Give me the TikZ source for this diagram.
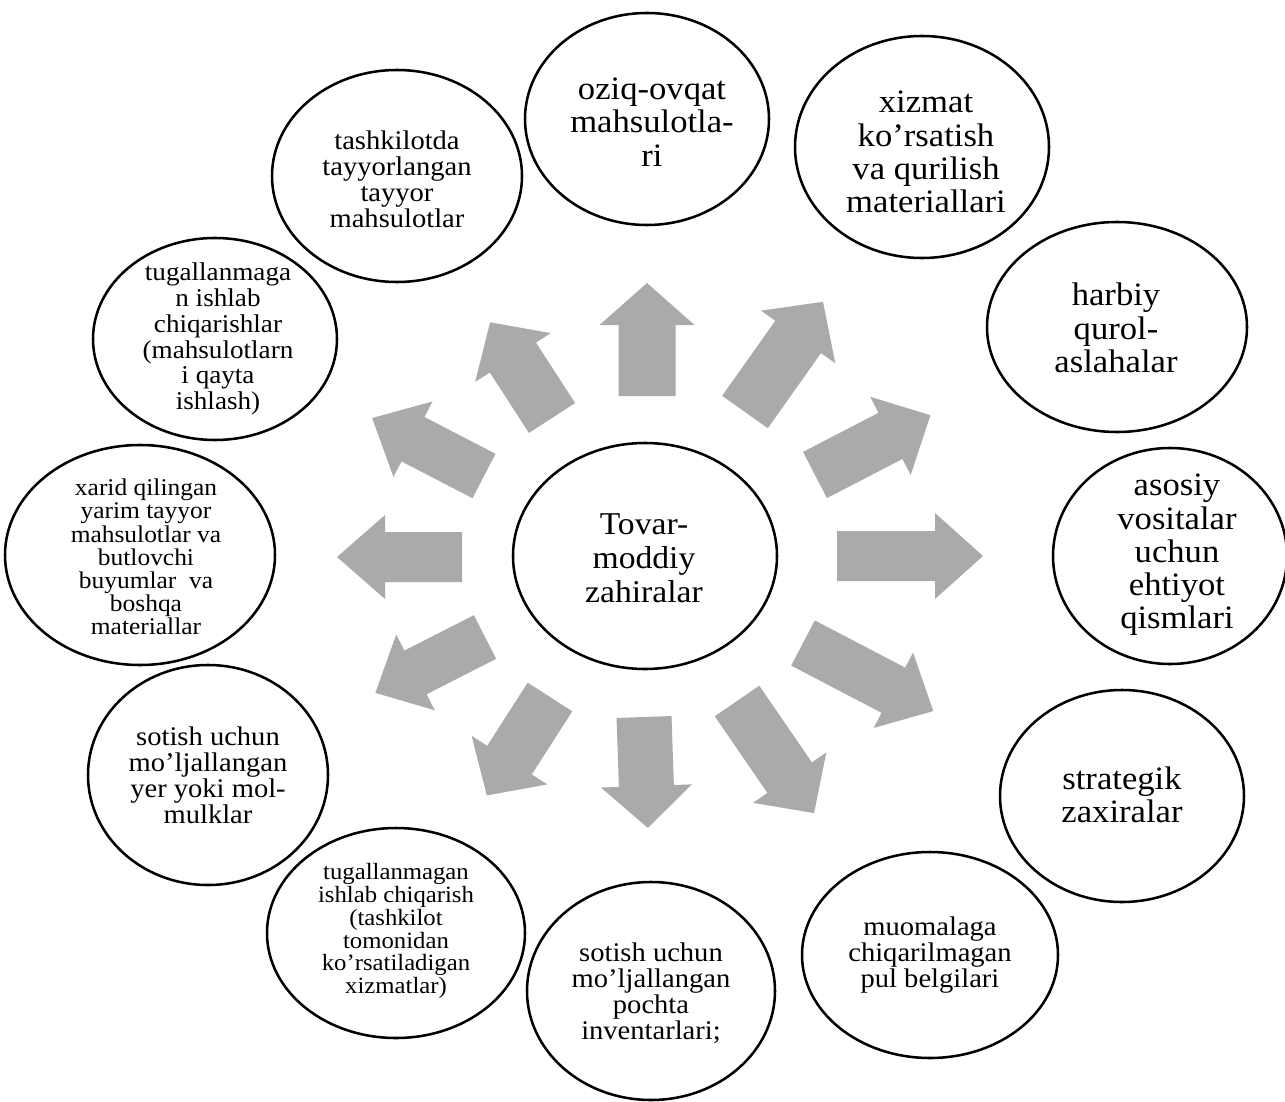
\documentclass[tikz,border=0pt]{standalone}
\usepackage{fontspec}
\setmainfont[FakeStretch=1.06]{Liberation Serif}
\usetikzlibrary{shapes.geometric}
\definecolor{arrgray}{RGB}{170,170,170}
% block arrow: base x, base y, angle, length, shaft width, head width, head length
\newcommand\blockarr[7]{%
  \begin{scope}[shift={(#1,#2)}, rotate=#3]
    \fill[arrgray] ({0},{-#5/2}) -- ({#4-#7},{-#5/2}) -- ({#4-#7},{-#6/2}) -- ({#4},{0})
      -- ({#4-#7},{#6/2}) -- ({#4-#7},{#5/2}) -- ({0},{#5/2}) -- cycle;
  \end{scope}}
\newcommand\fBig{\fontsize{24.5}{24.9}\selectfont}
\newcommand\fCen{\fontsize{23.8}{25.5}\selectfont}
\newcommand\fMid{\fontsize{20.2}{19.4}\selectfont}
\newcommand\fMidb{\fontsize{19.2}{19.3}\selectfont}
\newcommand\fSml{\fontsize{17.5}{17.1}\selectfont}
\newcommand\fXar{\fontsize{18}{17.4}\selectfont}
\tikzset{
  oval/.style 2 args={ellipse, draw=black, line width=1.9pt, fill=white,
    minimum width=#1*1.5pt, minimum height=#2*1.5pt, inner sep=0pt},
  txt/.style={inner sep=0pt, align=center, text=black}
}
\begin{document}
\begin{tikzpicture}[x=0.75pt, y=-0.75pt]
\useasboundingbox (0,0) rectangle (1285,1102);
\fill[white] (0,0) rectangle (1285,1102);

% arrows
\blockarr{647}{396}{90}{113}{57}{95}{42}
\blockarr{745}{412}{54.7}{135}{56}{91}{43}
\blockarr{815}{475}{27.4}{130}{52}{88}{45}
\blockarr{837}{556}{0}{146}{50}{86}{48}
\blockarr{803}{643}{-27.6}{147}{51}{85}{45}
\blockarr{737}{701}{-55.5}{136}{54}{89}{43}
\blockarr{644}{717}{-88}{111}{55}{91}{42}
\blockarr{550}{697}{-122.7}{117}{53}{90}{42}
\blockarr{485}{637}{-153}{123}{49}{85}{45}
\blockarr{462}{557}{180}{125}{50}{84}{48}
\blockarr{484}{476}{152.6}{126}{50}{85}{46}
\blockarr{552}{418}{122.9}{114}{55}{90}{42}

% ellipses
\node[oval={132}{113}] (c) at (645,556) {};
\node[oval={122}{106}] (e1) at (647,119) {};
\node[oval={127}{111}] (e2) at (922,147) {};
\node[oval={130}{105}] (e3) at (1117,327) {};
\node[oval={117}{108}] (e4) at (1170,556) {};
\node[oval={122}{106}] (e5) at (1122,796) {};
\node[oval={128}{103}] (e6) at (930,955) {};
\node[oval={124}{109}] (e7) at (651,991) {};
\node[oval={129}{105}] (e8) at (396,933) {};
\node[oval={120}{110}] (e9) at (208,775) {};
\node[oval={135}{110}] (e10) at (140,555) {};
\node[oval={122}{101}] (e11) at (215,339) {};
\node[oval={125}{106}] (e12) at (397,176) {};

% texts
\node[txt, font=\fCen] (tc) at (644,558) {Tovar-\\moddiy\\zahiralar};
\node[txt, font=\fBig] (t1) at (652,122) {oziq-ovqat\\mahsulotla-\\ri};
\node[txt, font=\fBig] (t2) at (926,152) {xizmat\\ko’rsatish\\va qurilish\\materiallari};
\node[txt, font=\fBig] (t3) at (1116,328) {harbiy\\qurol-\\aslahalar};
\node[txt, font=\fBig] (t4) at (1177,555) {asosiy\\vositalar\\uchun\\ehtiyot\\qismlari};
\node[txt, font=\fBig] (t5) at (1122,795) {strategik\\zaxiralar};
\node[txt, font=\fMid] (t6) at (930,955) {muomalaga\\chiqarilmagan\\pul belgilari};
\node[txt, font=\fMid] (t7) at (651,993) {sotish uchun\\mo’ljallangan\\pochta\\inventarlari;};
\node[txt, font=\fSml] (t8) at (396,931) {tugallanmagan\\ishlab chiqarish\\(tashkilot\\tomonidan\\ko’rsatiladigan\\xizmatlar)};
\node[txt, font=\fMid] (t9) at (208,775) {sotish uchun\\mo’ljallangan\\yer yoki mol-\\mulklar};
\node[txt, font=\fXar] (t10) at (146,557) {xarid qilingan\\yarim tayyor\\mahsulotlar va\\butlovchi\\buyumlar\ \ va\\boshqa\\materiallar};
\node[txt, font=\fMidb] (t11) at (218,339) {tugallanmaga\\n ishlab\\chiqarishlar\\(mahsulotlarn\\i qayta\\ishlash)};
\node[txt, font=\fMid] (t12) at (397,179) {tashkilotda\\tayyorlangan\\tayyor\\mahsulotlar};
\end{tikzpicture}
\end{document}
